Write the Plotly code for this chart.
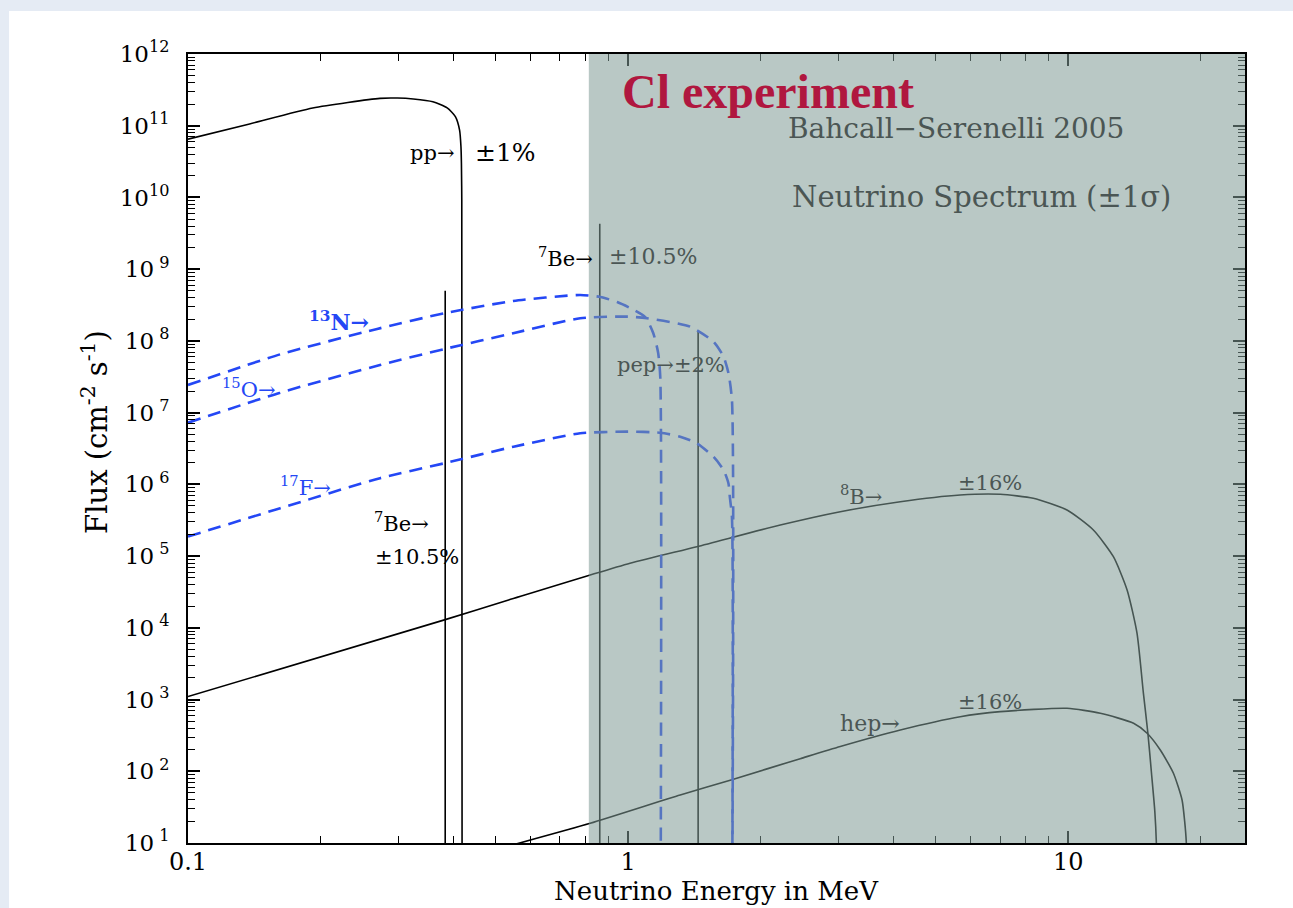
import numpy as np
import plotly.graph_objects as go

# ---------------- data ----------------
pp_E = [0.100, 0.138, 0.192, 0.273, 0.299, 0.325, 0.360, 0.388, 0.405, 0.414, 0.417, 0.418, 0.4188, 0.4195]
pp_F = [6.5e10, 1.06e11, 1.77e11, 2.41e11, 2.43e11, 2.36e11, 2.16e11, 1.77e11, 1.34e11, 8.7e10, 5.1e10, 3.0e10, 9.2e9, 1.0]

be7_E = [0.384, 0.862]
be7_F = [5.0e8, 4.3e9]

pep_E = [1.442]
pep_F = [1.35e8]

n13_E = [0.100, 0.162, 0.269, 0.3825, 0.548, 0.778, 0.864, 0.944, 1.010, 1.093, 1.140, 1.170, 1.183, 1.185]
n13_F = [2.43e7, 6.5e7, 1.47e8, 2.43e8, 3.6e8, 4.37e8, 4.1e8, 3.49e8, 2.88e8, 2.15e8, 1.29e8, 6.8e7, 3.1e7, 1.0]

o15_E = [0.100, 0.162, 0.273, 0.3825, 0.548, 0.778, 0.995, 1.103, 1.383, 1.563, 1.647, 1.690, 1.721, 1.723]
o15_F = [7.24e6, 1.9e7, 4.61e7, 7.71e7, 1.28e8, 2.07e8, 2.18e8, 2.07e8, 1.58e8, 9.75e7, 6.03e7, 3.54e7, 1.5e7, 1.0]

f17_E = [0.100, 0.162, 0.273, 0.3825, 0.549, 0.778, 0.995, 1.183, 1.313, 1.432, 1.563, 1.647, 1.690, 1.702, 1.721, 1.723]
f17_F = [1.87e5, 4.65e5, 1.22e6, 1.97e6, 3.35e6, 5.15e6, 5.43e6, 5.25e6, 4.62e6, 3.74e6, 2.43e6, 1.59e6, 1.03e6, 6.7e5, 3.5e5, 1.0]

b8_E = [0.100, 0.3825, 0.535, 1.010, 1.432, 2.216, 3.033, 4.152, 5.68, 7.005, 8.325, 9.93, 11.4, 12.66, 13.6, 14.32, 14.81, 15.16, 15.45, 15.72, 15.85, 15.9]
b8_F = [1.10e3, 1.29e4, 2.44e4, 7.94e4, 1.35e5, 2.71e5, 4.16e5, 5.73e5, 7.1e5, 7.27e5, 6.4e5, 4.39e5, 2.31e5, 9.8e4, 3.37e4, 8.47e3, 1.23e3, 342, 94.6, 28, 10, 1.0]

hep_E = [0.55, 0.82, 1.313, 1.713, 2.46, 3.033, 4.152, 5.68, 7.005, 9.93, 11.82, 14.07, 15.1, 16.18, 17.33, 18.13, 18.38, 18.54, 18.6]
hep_F = [9.5, 18.8, 46.7, 75.7, 150, 222, 377, 577, 678, 755, 644, 467, 339, 198, 93.8, 39.8, 20, 10, 1.0]

cl_threshold = 0.814

x_tickvals = [0.1, 1, 10]
x_ticktext = ["0.1", "1", "10"]
y_exponents = list(range(1, 13))
y_ticktext = [("10<sup>%d</sup>" % e) if e >= 10 else ("10<sup> %d</sup>" % e) for e in y_exponents]

# ---------------- style ----------------
FONT = "DejaVu Serif"
BLACK = "#000000"
BLUE = "#2447f5"
GRAYTXT = "#4b5654"
DASH = "13px,8px"

fig = go.Figure()

def solid(x, y):
    fig.add_trace(go.Scatter(x=x, y=y, mode="lines", line=dict(color=BLACK, width=1.6, shape="spline", smoothing=0.6),
                             showlegend=False, hoverinfo="skip"))

def dashed(x, y):
    fig.add_trace(go.Scatter(x=x, y=y, mode="lines", line=dict(color=BLUE, width=2.6, dash=DASH, shape="spline", smoothing=0.6),
                             showlegend=False, hoverinfo="skip"))

solid(pp_E, pp_F)
for e, f in zip(be7_E, be7_F):
    fig.add_trace(go.Scatter(x=[e, e], y=[1.0, f], mode="lines", line=dict(color=BLACK, width=1.6),
                             showlegend=False, hoverinfo="skip"))
for e, f in zip(pep_E, pep_F):
    fig.add_trace(go.Scatter(x=[e, e], y=[1.0, f], mode="lines", line=dict(color=BLACK, width=1.6),
                             showlegend=False, hoverinfo="skip"))
solid(b8_E, b8_F)
solid(hep_E, hep_F)
dashed(n13_E, n13_F)
dashed(o15_E, o15_F)
dashed(f17_E, f17_F)

# page frame: light blue border with white panel
fig.add_shape(type="rect", xref="paper", yref="paper", x0=-0.1693, x1=1.06, y0=-0.12, y1=1.0545,
              fillcolor="white", line=dict(width=0), layer="below")

# Cl experiment shaded overlay
fig.add_shape(type="rect", xref="x", yref="y", x0=cl_threshold, x1=25.8, y0=10, y1=1e12,
              fillcolor="rgba(128,155,150,0.55)", line=dict(width=0), layer="above")

def ann(text, xl, yl, color=BLACK, size=21, xanchor="center", bold=False, family=FONT):
    fig.add_annotation(x=xl, y=yl, xref="x", yref="y", text=("<b>%s</b>" % text) if bold else text,
                       showarrow=False, xanchor=xanchor, yanchor="middle",
                       font=dict(family=family, size=size, color=color))

ann("pp→", -0.391, 10.62, xanchor="right")
ann("±1%", -0.352, 10.63, xanchor="left", size=25)
ann("<sup>7</sup>Be→", -0.075, 9.17, xanchor="right")
ann("±10.5%", -0.048, 9.17, xanchor="left", color=GRAYTXT, size=22)
ann("<sup>13</sup>N→", -0.657, 8.28, color=BLUE, bold=True, size=22)
ann("<sup>15</sup>O→", -0.861, 7.34, color=BLUE)
ann("<sup>17</sup>F→", -0.732, 5.98, color=BLUE)
ann("<sup>7</sup>Be→", -0.582, 5.48, xanchor="left")
ann("±10.5%", -0.580, 4.99, xanchor="left")
ann("pep→±2%", -0.030, 7.66, xanchor="left", color=GRAYTXT)
ann("<sup>8</sup>B→", 0.477, 5.85, xanchor="left", color=GRAYTXT)
ann("±16%", 0.823, 6.02, color=GRAYTXT)
ann("hep→", 0.477, 2.66, xanchor="left", color=GRAYTXT, size=22)
ann("±16%", 0.823, 2.97, color=GRAYTXT)
ann("Bahcall−Serenelli 2005", 0.7455, 10.968, color=GRAYTXT, size=28)
ann("Neutrino Spectrum (±1σ)", 0.802, 10.006, color=GRAYTXT, size=29)
ann("Cl experiment", -0.018, 11.484, color="#b0173f", size=48, xanchor="left", bold=True, family="Liberation Serif")

# axis titles
fig.add_annotation(x=-0.088, y=0.521, xref="paper", yref="paper", text="Flux (cm<sup>-2</sup> s<sup>-1</sup>)",
                   textangle=-90, showarrow=False, xanchor="center", yanchor="middle",
                   font=dict(family=FONT, size=29, color=BLACK))
fig.add_annotation(x=0.5, y=-0.0610, xref="paper", yref="paper", text="Neutrino Energy in MeV",
                   showarrow=False, xanchor="center", yanchor="middle",
                   font=dict(family=FONT, size=26, color=BLACK))

x_minor = [v * d for d in (0.1, 1, 10) for v in range(2, 10) if v * d < 25]
y_minor = [v * 10 ** e for e in range(1, 12) for v in range(2, 10)]

fig.update_xaxes(type="log", range=[-1, np.log10(25.2)], showline=True, linecolor=BLACK, linewidth=2,
                 mirror="ticks", ticks="inside", ticklen=12, tickwidth=1.5, tickcolor=BLACK,
                 tickvals=x_tickvals, ticktext=x_ticktext, showgrid=False, zeroline=False,
                 tickfont=dict(family=FONT, size=24, color=BLACK), ticklabelstandoff=-4,
                 minor=dict(ticks="inside", ticklen=7, tickwidth=1.2, tickcolor=BLACK, tickvals=x_minor, showgrid=False))
fig.update_yaxes(type="log", range=[1, 12], showline=True, linecolor=BLACK, linewidth=2,
                 mirror="ticks", ticks="inside", ticklen=12, tickwidth=1.5, tickcolor=BLACK,
                 tickvals=[10 ** e for e in y_exponents], ticktext=y_ticktext, showgrid=False, zeroline=False,
                 tickfont=dict(family=FONT, size=23, color=BLACK), ticklabelstandoff=12,
                 minor=dict(ticks="inside", ticklen=7, tickwidth=1.2, tickcolor=BLACK, tickvals=y_minor, showgrid=False))

fig.update_layout(width=1293, height=908, autosize=False,
                  margin=dict(l=188, r=48, t=54, b=65),
                  paper_bgcolor="#e5ebf4", plot_bgcolor="white", showlegend=False)

fig.write_html("out.html", config={"displayModeBar": False})
